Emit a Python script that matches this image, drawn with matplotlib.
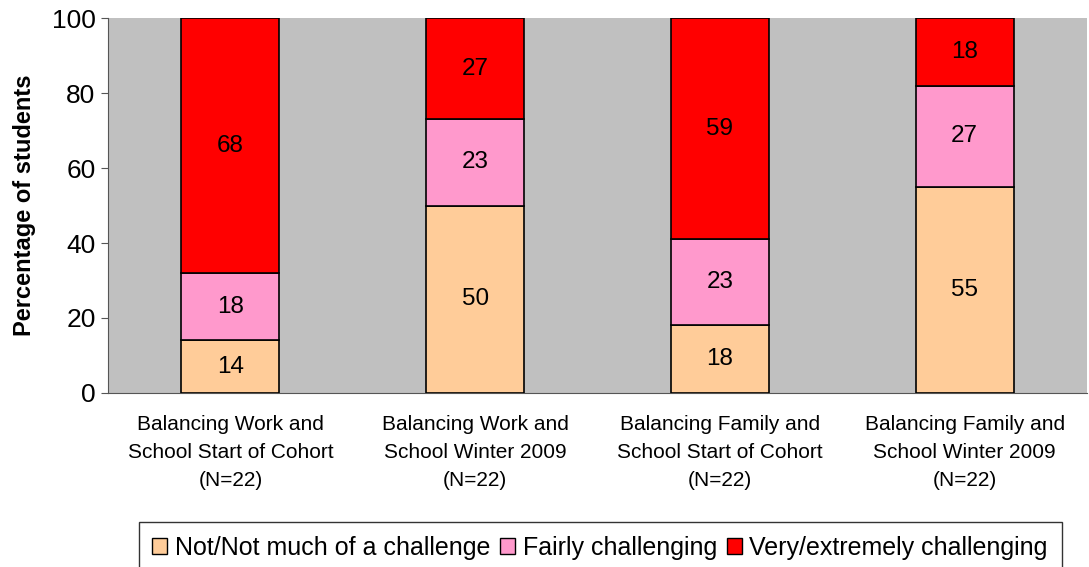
import numpy as np
import matplotlib.pyplot as plt
from matplotlib.patches import Patch

categories = ['Balancing Work and\nSchool Start of Cohort\n(N=22)',
              'Balancing Work and\nSchool Winter 2009\n(N=22)',
              'Balancing Family and\nSchool Start of Cohort\n(N=22)',
              'Balancing Family and\nSchool Winter 2009\n(N=22)']
not_much = [14, 50, 18, 55]
fairly = [18, 23, 23, 27]
very = [68, 27, 59, 18]
series_names = ['Not/Not much of a challenge', 'Fairly challenging', 'Very/extremely challenging']
colors = ['#FFCC99', '#FF99CC', '#FF0000']

plt.rcParams['font.family'] = ['Liberation Sans', 'DejaVu Sans']

fig = plt.figure(figsize=(10.89, 5.67), dpi=100)
ax = fig.add_axes([0.0992, 0.307, 0.899, 0.661])
ax.set_facecolor('#C0C0C0')

x = np.arange(len(categories))
bottom = np.zeros(len(categories))
for vals, col in zip([not_much, fairly, very], colors):
    ax.bar(x, vals, width=0.4, bottom=bottom, color=col, edgecolor='black', linewidth=1.2, zorder=3)
    for xi, b, v in zip(x, bottom, vals):
        ax.text(xi, b + v / 2, str(v), ha='center', va='center', fontsize=17.5, zorder=4)
    bottom += np.array(vals)

ax.set_xlim(-0.5, 3.5)
ax.set_ylim(0, 100)
ax.set_yticks([0, 20, 40, 60, 80, 100])
ax.tick_params(axis='y', labelsize=19, length=5, color='#555555', direction='out', pad=4)
ax.set_xticks(x)
ax.set_xticklabels(categories, fontsize=15, linespacing=1.6)
ax.tick_params(axis='x', length=0, pad=16)
for s in ['top', 'right']:
    ax.spines[s].set_visible(False)
ax.spines['left'].set_color('#555555')
ax.spines['bottom'].set_color('#555555')
ax.set_ylabel('Percentage of students', fontsize=17, fontweight='bold', labelpad=11)

handles = [Patch(facecolor=c, edgecolor='black', linewidth=1) for c in colors]
leg = fig.legend(handles, series_names, loc='upper center', bbox_to_anchor=(0.551, 0.079),
                 ncol=3, frameon=True, fancybox=False, edgecolor='black',
                 prop={'size': 18},
                 handlelength=0.6, handleheight=0.6, handletextpad=0.3, columnspacing=0.4,
                 borderpad=0.55, borderaxespad=0)
leg.get_frame().set_linewidth(1)

fig.savefig('out.png', dpi=100)
